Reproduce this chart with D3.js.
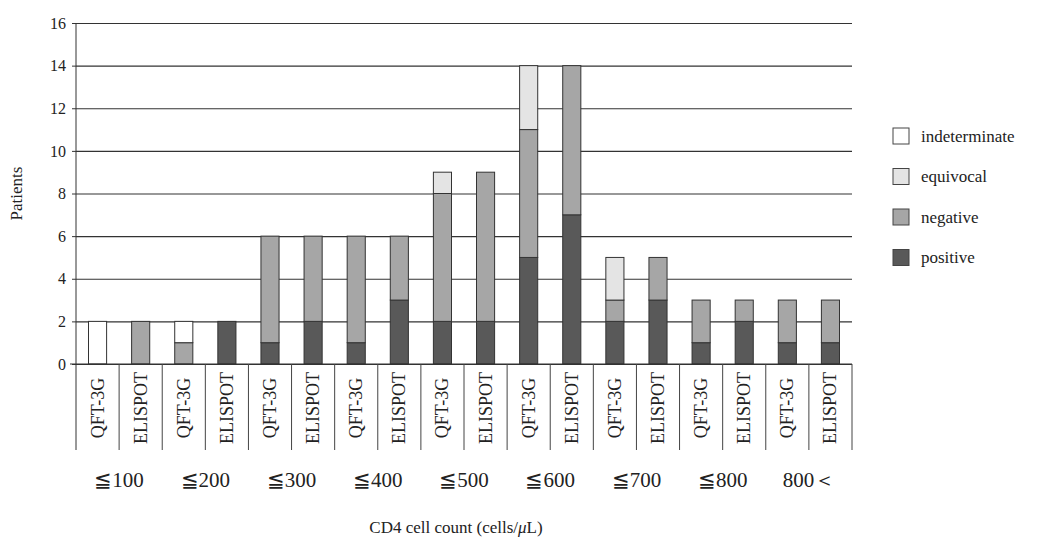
<!DOCTYPE html>
<html>
<head>
<meta charset="utf-8">
<script src="https://cdn.jsdelivr.net/npm/d3@7"></script>
<style>
  body { margin: 0; background: #fff; }
  svg text { font-family: "Liberation Serif", "Times New Roman", serif !important; fill: #222; }
</style>
</head>
<body>
<div id="chart"></div>
<script>
// Groups of CD4 count and the two tests in each group
const groups = ["≦100", "≦200", "≦300", "≦400", "≦500", "≦600", "≦700", "≦800", "800＜"];
const methods = ["QFT-3G", "ELISPOT"];

// Patients per bar (18 bars: QFT-3G, ELISPOT for each group)
const positive      = [0, 0, 0, 2, 1, 2, 1, 3, 2, 2, 5, 7, 2, 3, 1, 2, 1, 1];
const negative      = [0, 2, 1, 0, 5, 4, 5, 3, 6, 7, 6, 7, 1, 2, 2, 1, 2, 2];
const equivocal     = [0, 0, 0, 0, 0, 0, 0, 0, 1, 0, 3, 0, 2, 0, 0, 0, 0, 0];
const indeterminate = [2, 0, 1, 0, 0, 0, 0, 0, 0, 0, 0, 0, 0, 0, 0, 0, 0, 0];

const seriesNames = ["positive", "negative", "equivocal", "indeterminate"];
const yTicks = [0, 2, 4, 6, 8, 10, 12, 14, 16];

const width = 1042;
const height = 544;
const margin = { top: 23, right: 190, bottom: 180, left: 76 };
const plotRight = width - margin.right;   // 852
const plotBottom = height - margin.bottom; // 364
const labelBottom = 450;

const colors = {
    positive: "#595959",
    negative: "#a6a6a6",
    equivocal: "#e4e4e4",
    indeterminate: "#ffffff"
};

// Build rows for the stack
const rows = [];
groups.forEach((g, gi) => {
    methods.forEach((m, mi) => {
        const i = gi * 2 + mi;
        rows.push({
            key: g + "|" + m, group: g, method: m,
            positive: positive[i], negative: negative[i],
            equivocal: equivocal[i], indeterminate: indeterminate[i]
        });
    });
});
const keys = rows.map(d => d.key);

const x = d3.scaleBand()
    .domain(keys)
    .range([margin.left, plotRight])
    .paddingInner(0.58)
    .paddingOuter(0.29);

const slot = d3.scaleBand().domain(keys).range([margin.left, plotRight]).padding(0);
const gx = d3.scaleBand().domain(groups).range([margin.left, plotRight]).padding(0);

const y = d3.scaleLinear()
    .domain([0, 16])
    .range([plotBottom, margin.top]);

const svg = d3.select("#chart").append("svg")
    .attr("width", width)
    .attr("height", height);

// Gridlines
svg.append("g")
    .attr("transform", `translate(${margin.left},0)`)
    .call(d3.axisLeft(y).tickValues(yTicks).tickSize(-(plotRight - margin.left)).tickFormat(""))
    .call(g => g.select(".domain").remove())
    .call(g => g.selectAll("line").attr("stroke", "#333").attr("stroke-width", 1.2));

// Stacked bars
const stack = d3.stack().keys(seriesNames)(rows);
svg.append("g")
    .selectAll("g")
    .data(stack)
    .join("g")
    .attr("fill", s => colors[s.key])
    .selectAll("rect")
    .data(s => s.filter(d => d[1] > d[0]))
    .join("rect")
    .attr("x", d => x(d.data.key))
    .attr("width", x.bandwidth())
    .attr("y", d => y(d[1]))
    .attr("height", d => y(d[0]) - y(d[1]))
    .attr("stroke", "#333")
    .attr("stroke-width", 1);

// Y axis with ticks and labels
const yAxis = svg.append("g")
    .attr("transform", `translate(${margin.left},0)`)
    .call(d3.axisLeft(y).tickValues(yTicks).tickSize(4).tickPadding(6))
    .call(g => g.select(".domain").remove());
yAxis.attr("font-family", null);
yAxis.selectAll("line").attr("stroke", "#333");
yAxis.selectAll("text")
    .style("font-size", "16px")
    .attr("fill", "#222");

// Axis lines
svg.append("line")
    .attr("x1", margin.left).attr("x2", margin.left)
    .attr("y1", y(16)).attr("y2", labelBottom)
    .attr("stroke", "#333");
svg.append("line")
    .attr("x1", margin.left - 6).attr("x2", plotRight)
    .attr("y1", y(0)).attr("y2", y(0))
    .attr("stroke", "#333").attr("stroke-width", 1.2);

// Separators between categories below the axis
svg.append("g")
    .selectAll("line")
    .data(keys.slice(1).map(k => slot(k)).concat([plotRight]))
    .join("line")
    .attr("x1", d => d).attr("x2", d => d)
    .attr("y1", y(0)).attr("y2", labelBottom)
    .attr("stroke", "#444");

// Method labels (rotated)
svg.append("g")
    .selectAll("text")
    .data(rows)
    .join("text")
    .attr("transform", d => `translate(${slot(d.key) + slot.bandwidth() / 2},${(y(0) + labelBottom) / 2 + 1}) rotate(-90)`)
    .attr("text-anchor", "middle")
    .attr("dominant-baseline", "central")
    .style("font-size", "18px")
    .text(d => d.method);

// Group labels
svg.append("g")
    .selectAll("text")
    .data(groups)
    .join("text")
    .attr("x", d => gx(d) + gx.bandwidth() / 2)
    .attr("y", 487)
    .attr("text-anchor", "middle")
    .style("font-size", "21px")
    .text(d => d);

// Axis titles
svg.append("text")
    .attr("x", 456)
    .attr("y", 533)
    .attr("text-anchor", "middle")
    .style("font-size", "17px")
    .html('CD4 cell count (cells/<tspan font-style="italic">μ</tspan>L)');

svg.append("text")
    .attr("transform", `translate(22,${(y(0) + y(16)) / 2}) rotate(-90)`)
    .attr("text-anchor", "middle")
    .style("font-size", "17px")
    .text("Patients");

// Legend (top to bottom: indeterminate, equivocal, negative, positive)
const legendItems = seriesNames.slice().reverse();
const legend = svg.append("g")
    .selectAll("g")
    .data(legendItems)
    .join("g")
    .attr("transform", (d, i) => `translate(893,${136 + i * 40.5})`);
legend.append("rect")
    .attr("x", 0).attr("y", -8)
    .attr("width", 16).attr("height", 16)
    .attr("fill", d => colors[d])
    .attr("stroke", "#444");
legend.append("text")
    .attr("x", 28)
    .attr("y", 0)
    .attr("dominant-baseline", "central")
    .style("font-size", "17px")
    .text(d => d);
</script>
</body>
</html>
